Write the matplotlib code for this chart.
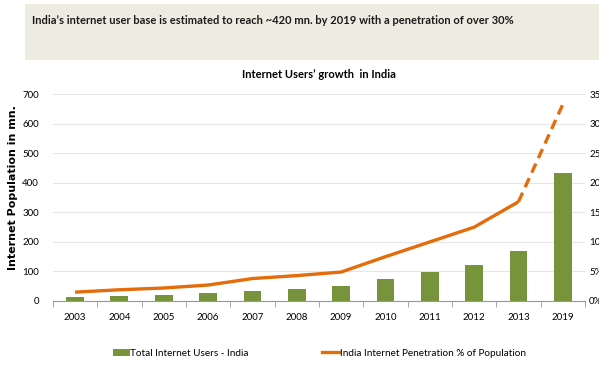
import matplotlib
matplotlib.use("Agg")
import matplotlib.pyplot as plt
from matplotlib.patches import Rectangle
from matplotlib.lines import Line2D
from matplotlib.patches import Patch
import numpy as np

years = ["2003", "2004", "2005", "2006", "2007", "2008", "2009",
         "2010", "2011", "2012", "2013", "2019"]
users_mn = [15, 18, 22, 26, 34, 42, 51, 73, 98, 123, 170, 432]
penetration_pct = [1.5, 1.9, 2.2, 2.7, 3.8, 4.3, 4.9, 7.5, 10.0, 12.5, 16.8, 33.3]
left_ticks = [0, 100, 200, 300, 400, 500, 600, 700]
right_ticks = ["0%", "5%", "10%", "15%", "20%", "25%", "30%", "35%"]

green = "#77933C"
orange = "#E46C0A"
font = ["Lato", "DejaVu Sans"]

fig = plt.figure(figsize=(5.99, 3.65), dpi=100)
fig.patch.set_facecolor("white")

# headline banner
fig.patches.append(Rectangle((25 / 599, 1 - 60 / 365), 1, 56 / 365,
                             transform=fig.transFigure, facecolor="#EEECE1",
                             edgecolor="none", zorder=0))
fig.text(32 / 599, 1 - 20 / 365,
         "India\u2019s internet user base is estimated to reach ~420 mn. by 2019 with a penetration of over 30%",
         family=font, fontsize=8.0, fontweight="bold", color="#1a1a1a",
         va="center", ha="left")

ax = fig.add_axes([52.8 / 599, 1 - 301 / 365, (585 - 52.8) / 599, (301 - 94.3) / 365])
x = np.arange(len(years))
ax.bar(x, users_mn, width=0.4, color=green, zorder=3)
ax.set_xlim(-0.5, len(years) - 0.5)
ax.set_ylim(0, 700)
ax.set_yticks(left_ticks)
ax.set_yticklabels([str(v) for v in left_ticks], family=font, fontsize=7)
ax.set_xticks(x)
ax.set_xticklabels(years, family=font, fontsize=7)
ax.tick_params(axis="x", length=0, pad=9)
ax.set_xticks(np.arange(-0.5, len(years)), minor=True)
ax.tick_params(axis="x", which="minor", length=4, color="#999999")
ax.tick_params(axis="y", length=0, pad=10)
ax.grid(axis="y", color="#E6E6E6", linewidth=0.8, zorder=0)
for s in ["top", "right", "left"]:
    ax.spines[s].set_visible(False)
ax.spines["bottom"].set_color("#999999")
ax.set_ylabel("Internet Population in mn.", family="DejaVu Sans", fontsize=8,
              fontweight="bold", labelpad=10)
ax.yaxis.set_label_coords(-0.066, 0.55)
ax.set_title("Internet Users\u2019 growth  in India", family=font, fontsize=8,
             fontweight="bold", pad=12)

ax2 = ax.twinx()
ax2.set_ylim(0, 35)
ax2.set_yticks(np.arange(0, 36, 5))
ax2.set_yticklabels(right_ticks, family=font, fontsize=7)
ax2.tick_params(axis="y", length=0, pad=3)
for s in ax2.spines.values():
    s.set_visible(False)
ax2.plot(x[:-1], penetration_pct[:-1], color=orange, linewidth=2.4,
         solid_capstyle="butt", zorder=4)
ax2.plot(x[-2:], penetration_pct[-2:], color=orange, linewidth=2.4,
         linestyle=(0, (3, 1.8)), zorder=4)

legend_y = 1 - 353 / 365
leg_kw = dict(loc="center left", frameon=False, prop={"family": font, "size": 7.2},
              handlelength=1.7, handletextpad=0.05, borderpad=0, borderaxespad=0)
leg1 = fig.legend([Patch(facecolor=green)], ["Total Internet Users - India"],
                  bbox_to_anchor=(113 / 599, legend_y), **leg_kw)
fig.legend([Line2D([0], [0], color=orange, linewidth=2.4)],
           ["India Internet Penetration % of Population"],
           bbox_to_anchor=(322 / 599, legend_y), **leg_kw)

fig.savefig("out.png", dpi=100)
